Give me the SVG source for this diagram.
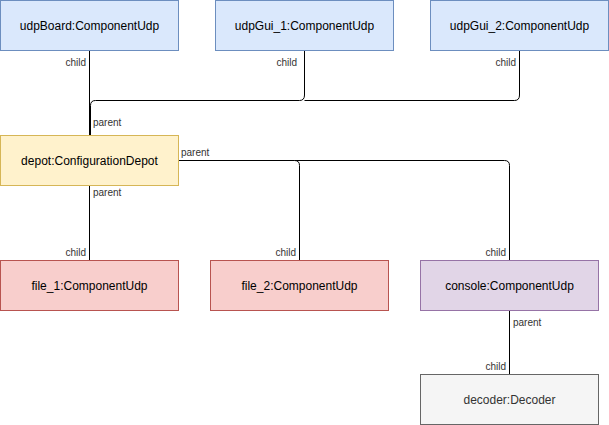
<svg xmlns="http://www.w3.org/2000/svg" width="609" height="425" viewBox="0 0 609 425">
<style>
.n{stroke-width:1}
.blue{fill:#dae8fc;stroke:#6c8ebf}
.yel{fill:#fff2cc;stroke:#d6b656}
.red{fill:#f8cecc;stroke:#b85450}
.pur{fill:#e1d5e7;stroke:#9673a6}
.gry{fill:#f5f5f5;stroke:#666666}
.t{font-family:"Liberation Sans",Arial,sans-serif;font-size:12px;fill:#000;text-anchor:middle}
.tg{fill:#333333}
.e{fill:none;stroke:#000;stroke-width:1}
.l{font-family:"Liberation Sans",Arial,sans-serif;font-size:10px;fill:#333}
.r{text-anchor:end}
</style>
<rect width="609" height="425" fill="#fff"/>
<g id="connectors">
<path class="e" d="M89.5 50V140"/>
<path class="e" d="M304.5 50V95Q304.5 100.5 299.5 100.5H95.5Q90.5 100.5 90.5 105.5V140"/>
<path class="e" d="M519.5 50V95Q519.5 100.5 514.5 100.5H304.5"/>
<path class="e" d="M178 160.5H294.5Q299.5 160.5 299.5 165.5V260"/>
<path class="e" d="M294.5 160.5H504.5Q509.5 160.5 509.5 165.5V260"/>
<path class="e" d="M89.5 185V260"/>
<path class="e" d="M509.5 310V375"/>
<text class="l r" x="86" y="66">child</text>
<text class="l r" x="297" y="66">child</text>
<text class="l r" x="516" y="66">child</text>
<text class="l" x="93" y="126">parent</text>
<text class="l" x="181" y="156">parent</text>
<text class="l" x="93" y="196">parent</text>
<text class="l r" x="86" y="256">child</text>
<text class="l r" x="296" y="256">child</text>
<text class="l r" x="506" y="256">child</text>
<text class="l" x="513" y="326">parent</text>
<text class="l r" x="506" y="370">child</text>
</g>
<g id="udpBoard"><rect class="n blue" x="0.5" y="0.5" width="178" height="50"/><text class="t" x="89.5" y="30">udpBoard:ComponentUdp</text></g>
<g id="udpGui_1"><rect class="n blue" x="215.5" y="0.5" width="178" height="50"/><text class="t" x="304.5" y="30">udpGui_1:ComponentUdp</text></g>
<g id="udpGui_2"><rect class="n blue" x="430.5" y="0.5" width="178" height="50"/><text class="t" x="519.5" y="30">udpGui_2:ComponentUdp</text></g>
<g id="depot"><rect class="n yel" x="0.5" y="135.5" width="178" height="50"/><text class="t" x="89.5" y="165">depot:ConfigurationDepot</text></g>
<g id="file_1"><rect class="n red" x="0.5" y="260.5" width="178" height="50"/><text class="t" x="89.5" y="290">file_1:ComponentUdp</text></g>
<g id="file_2"><rect class="n red" x="210.5" y="260.5" width="178" height="50"/><text class="t" x="299.5" y="290">file_2:ComponentUdp</text></g>
<g id="console"><rect class="n pur" x="420.5" y="260.5" width="178" height="50"/><text class="t" x="509.5" y="290">console:ComponentUdp</text></g>
<g id="decoder"><rect class="n gry" x="420.5" y="374.5" width="178" height="50"/><text class="t tg" x="509.5" y="404">decoder:Decoder</text></g>
</svg>
